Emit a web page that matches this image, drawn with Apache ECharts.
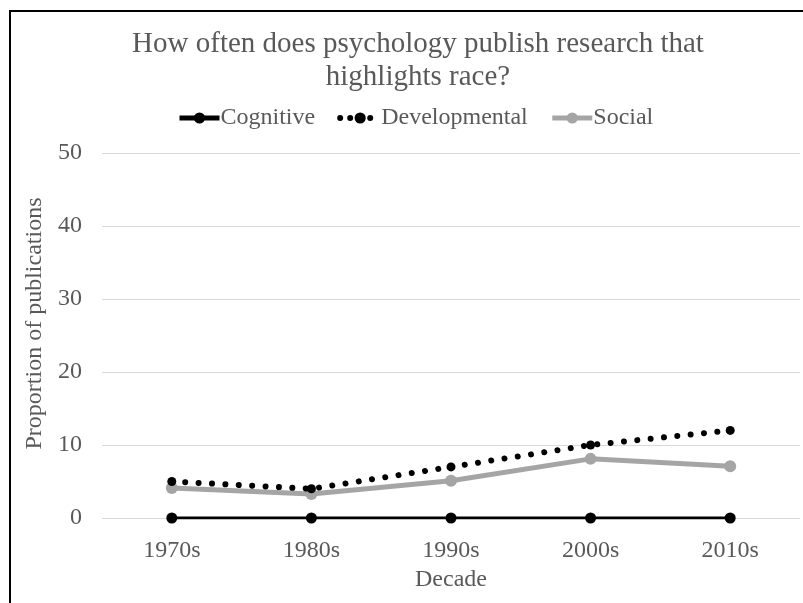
<!DOCTYPE html>
<html>
<head>
<meta charset="utf-8">
<script src="https://cdn.jsdelivr.net/npm/echarts@6/dist/echarts.min.js"></script>
<style>
  html, body { margin: 0; padding: 0; background: #fff; }
  #chart { width: 803px; height: 603px; }
</style>
</head>
<body>
<div id="chart"></div>
<script>
// Decades on the x axis
const decades = ['1970s', '1980s', '1990s', '2000s', '2010s'];
// Proportion of publications highlighting race, per subfield
const cognitive = [0, 0, 0, 0, 0];
const developmental = [5, 4, 7, 10, 12];
const social = [4.1, 3.3, 5.1, 8.1, 7.1];

const FONT = '"Liberation Serif", "Times New Roman", serif';
const TEXT = '#595959';

const chart = echarts.init(document.getElementById('chart'), null, { renderer: 'canvas' });

chart.setOption({
  backgroundColor: '#fff',
  animation: false,
  title: {
    text: 'How often does psychology publish research that\nhighlights race?',
    left: 413,
    top: 23,
    textAlign: 'center',
    textStyle: { fontFamily: FONT, fontSize: 29, fontWeight: 'normal', color: TEXT, lineHeight: 33 }
  },
  legend: {
    top: 101,
    left: 172,
    itemWidth: 40,
    itemHeight: 14,
    itemGap: 22,
    textStyle: { fontFamily: FONT, fontSize: 24, color: TEXT, padding: [0, 0, 0, -4] },
    data: [
      { name: 'Cognitive', lineStyle: { width: 5 } },
      { name: 'Developmental', lineStyle: { width: 6, type: [0.01, 10] } },
      { name: 'Social', lineStyle: { width: 5 } }
    ]
  },
  grid: { left: 102, right: 3, top: 153, bottom: 85, containLabel: false },
  xAxis: {
    type: 'category',
    data: decades,
    boundaryGap: true,
    axisLine: { show: false },
    axisTick: { show: false },
    axisLabel: { fontFamily: FONT, fontSize: 24, color: TEXT, margin: 21 },
    name: 'Decade',
    nameLocation: 'middle',
    nameGap: 50,
    nameTextStyle: { fontFamily: FONT, fontSize: 24, color: TEXT }
  },
  yAxis: {
    type: 'value',
    min: 0,
    max: 50,
    interval: 10,
    axisLine: { show: false },
    axisTick: { show: false },
    splitLine: { lineStyle: { color: '#d9d9d9', width: 1 } },
    axisLabel: { fontFamily: FONT, fontSize: 24, color: TEXT, margin: 20 },
    name: 'Proportion of publications',
    nameLocation: 'middle',
    nameGap: 54,
    nameTextStyle: { fontFamily: FONT, fontSize: 24, color: TEXT, padding: [0, 0, 0, 24] }
  },
  series: [
    {
      name: 'Cognitive',
      type: 'line',
      data: cognitive,
      z: 4,
      symbol: 'circle',
      symbolSize: 11,
      itemStyle: { color: '#000' },
      lineStyle: { color: '#000', width: 3 }
    },
    {
      name: 'Developmental',
      type: 'line',
      data: developmental,
      z: 3,
      symbol: 'circle',
      symbolSize: 9,
      itemStyle: { color: '#000' },
      lineStyle: { color: '#000', width: 6, type: [0.01, 13.4], cap: 'round' }
    },
    {
      name: 'Social',
      type: 'line',
      data: social,
      z: 2,
      symbol: 'circle',
      symbolSize: 12,
      itemStyle: { color: '#a5a5a5' },
      lineStyle: { color: '#a5a5a5', width: 5 }
    }
  ],
  graphic: [
    // frame lines along the top and left edges
    { type: 'line', shape: { x1: 10, y1: 11, x2: 803, y2: 11 }, style: { stroke: '#000', lineWidth: 2 } },
    { type: 'line', shape: { x1: 10, y1: 10, x2: 10, y2: 603 }, style: { stroke: '#000', lineWidth: 2 } }
  ]
});
</script>
</body>
</html>
